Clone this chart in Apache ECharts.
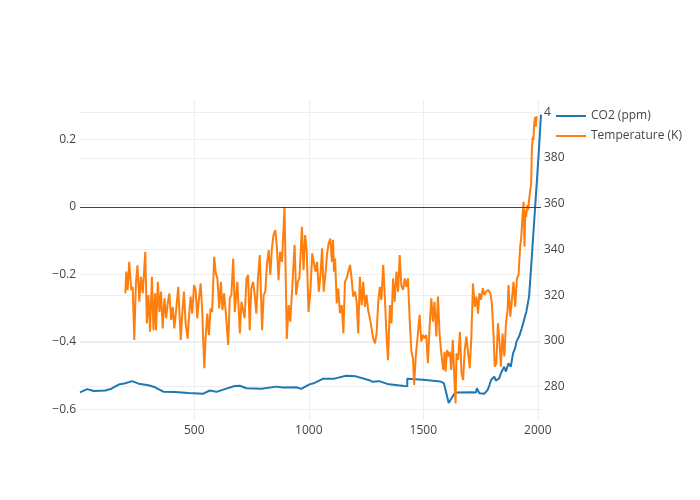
<!DOCTYPE html>
<html>
<head>
<meta charset="utf-8">
<script src="https://cdn.jsdelivr.net/npm/echarts@6/dist/echarts.min.js"></script>
<style>
html,body{margin:0;padding:0;background:#fff;}
#chart{width:700px;height:500px;}
</style>
</head>
<body>
<div id="chart"></div>
<script>
const seriesNames = ['CO2 (ppm)', 'Temperature (K)'];

const co2Years = [1,32,61,112,138,170,199,228,257,300,329,365,416,474,539,568,597,633,677,699,728,793,858,887,945,967,1003,1025,1061,1112,1163,1206,1264,1278,1307,1343,1416,1430,1430,1500,1575,1590,1611,1636,1645,1713,1730,1734,1745,1767,1781,1789,1796,1803,1810,1817,1832,1839,1846,1853,1861,1872,1882,1892,1901,1907,1918,1930,1940,1950,1962,1970,1977,1984,1990,1996,2002,2008,2014];
const co2Values = [277.5,278.9,278.1,278.3,279.1,280.9,281.5,282.4,281.3,280.6,279.7,277.8,277.7,277.2,276.9,278.3,277.7,278.9,280.3,280.4,279.3,279.1,280.0,279.6,279.7,279.0,281.0,281.6,283.4,283.5,284.8,284.5,282.8,282.1,282.4,281.2,280.3,280.2,283.4,283.0,282.2,281.5,272.8,277.0,277.4,277.5,277.4,279.3,277.1,276.9,278.6,280.7,282.9,282.2,284.4,282.6,283.7,285.9,287.3,288.7,286.6,290.2,288.7,294.6,296.8,299.7,301.9,305.5,309.2,312.8,319.5,331,341.5,352,361,370,379,389,399];

const tempYears = [199,203,209,216,225,231,238,245,252,260,267,275,286,293,300,307,315,322,329,333,341,348,355,362,370,377,384,391,399,406,413,420,430,441,448,455,462,471,478,484,491,499,506,513,520,528,535,540,544,549,557,564,571,578,587,594,601,609,616,623,630,638,648,655,662,670,677,688,699,706,713,720,728,735,742,749,757,764,771,778,786,796,803,810,817,825,832,839,846,854,861,868,875,883,894,904,912,919,926,938,945,952,959,970,977,984,991,999,1007,1015,1022,1029,1036,1044,1051,1058,1065,1073,1080,1087,1094,1101,1106,1110,1115,1122,1129,1136,1144,1151,1158,1165,1173,1180,1187,1194,1202,1209,1216,1223,1231,1238,1245,1252,1260,1267,1274,1281,1289,1296,1303,1310,1317,1325,1332,1339,1346,1354,1361,1368,1375,1383,1390,1397,1404,1412,1419,1426,1433,1441,1448,1455,1460,1467,1474,1484,1491,1499,1506,1513,1520,1528,1535,1542,1549,1557,1564,1571,1578,1583,1587,1593,1597,1604,1612,1616,1622,1629,1636,1641,1645,1652,1660,1667,1674,1681,1688,1696,1703,1710,1717,1725,1732,1739,1745,1752,1760,1767,1774,1783,1793,1800,1807,1812,1819,1826,1832,1839,1846,1854,1861,1868,1872,1880,1887,1894,1901,1909,1916,1923,1928,1933,1938,1942,1945,1949,1954,1958,1962,1967,1971,1974,1978,1981,1984,1988,1991,1995];
const tempValues = [-0.256,-0.192,-0.247,-0.163,-0.247,-0.237,-0.394,-0.227,-0.173,-0.281,-0.207,-0.256,-0.133,-0.345,-0.261,-0.370,-0.207,-0.365,-0.256,-0.365,-0.222,-0.311,-0.251,-0.360,-0.271,-0.330,-0.286,-0.256,-0.335,-0.296,-0.360,-0.311,-0.237,-0.394,-0.311,-0.251,-0.345,-0.390,-0.316,-0.266,-0.316,-0.232,-0.246,-0.330,-0.276,-0.227,-0.311,-0.414,-0.478,-0.394,-0.316,-0.380,-0.301,-0.311,-0.148,-0.197,-0.212,-0.301,-0.222,-0.306,-0.256,-0.316,-0.409,-0.271,-0.261,-0.153,-0.311,-0.222,-0.375,-0.281,-0.276,-0.330,-0.212,-0.202,-0.365,-0.242,-0.222,-0.261,-0.316,-0.212,-0.143,-0.365,-0.261,-0.251,-0.173,-0.128,-0.202,-0.123,-0.084,-0.069,-0.123,-0.217,-0.133,-0.163,0.000,-0.391,-0.291,-0.340,-0.261,-0.113,-0.261,-0.222,-0.212,-0.059,-0.187,-0.084,-0.133,-0.311,-0.251,-0.138,-0.133,-0.192,-0.163,-0.251,-0.202,-0.123,-0.251,-0.197,-0.138,-0.108,-0.094,-0.163,-0.098,-0.192,-0.153,-0.286,-0.242,-0.315,-0.291,-0.375,-0.222,-0.212,-0.207,-0.172,-0.212,-0.266,-0.251,-0.281,-0.375,-0.207,-0.291,-0.222,-0.296,-0.261,-0.310,-0.330,-0.330,-0.389,-0.404,-0.375,-0.286,-0.237,-0.276,-0.172,-0.266,-0.375,-0.454,-0.291,-0.345,-0.212,-0.281,-0.192,-0.251,-0.143,-0.232,-0.246,-0.212,-0.237,-0.212,-0.340,-0.429,-0.448,-0.527,-0.444,-0.444,-0.320,-0.399,-0.379,-0.389,-0.379,-0.463,-0.350,-0.271,-0.340,-0.281,-0.384,-0.266,-0.375,-0.429,-0.424,-0.483,-0.429,-0.488,-0.424,-0.443,-0.429,-0.483,-0.394,-0.513,-0.582,-0.434,-0.453,-0.370,-0.493,-0.513,-0.424,-0.384,-0.434,-0.478,-0.384,-0.227,-0.296,-0.266,-0.316,-0.256,-0.275,-0.241,-0.261,-0.251,-0.246,-0.256,-0.291,-0.384,-0.473,-0.463,-0.345,-0.394,-0.473,-0.375,-0.443,-0.345,-0.306,-0.232,-0.325,-0.275,-0.222,-0.296,-0.212,-0.202,-0.118,-0.089,-0.030,0.015,-0.118,-0.010,-0.030,0.005,-0.010,0.020,0.049,0.069,0.168,0.207,0.197,0.242,0.266,0.237,0.268];

const FONT = '"Open Sans", sans-serif';
const TXT = '#444';

function fmtSigned(v, step) {
  const r = Math.round(v / step);
  if (Math.abs(v - r * step) > step * 1e-3) return '';
  const n = Math.round(r * step * 10) / 10;
  if (n < 0) return '\u2212' + Math.abs(n);
  return String(n);
}

const chart = echarts.init(document.getElementById('chart'), null, {renderer: 'canvas'});
chart.setOption({
  animation: false,
  backgroundColor: '#fff',
  grid: {left: 80, right: 159, top: 100, bottom: 80, containLabel: false},
  legend: {
    data: seriesNames,
    orient: 'vertical',
    left: 551,
    top: 105,
    padding: [5, 5, 5, 5],
    backgroundColor: '#fff',
    itemWidth: 30,
    itemHeight: 2,
    itemGap: 8,
    icon: 'rect',
    textStyle: {color: TXT, fontSize: 12, fontFamily: FONT},
    selectedMode: false
  },
  xAxis: {
    type: 'value',
    min: 1,
    max: 2014,
    splitNumber: 5,
    axisLine: {show: false},
    axisTick: {show: false},
    axisLabel: {
      color: TXT, fontSize: 12, fontFamily: FONT, margin: 5,
      showMinLabel: false, showMaxLabel: false,
      formatter: v => (v % 500 === 0 ? String(v) : '')
    },
    splitLine: {show: true, showMinLine: false, showMaxLine: false, lineStyle: {color: '#eee', width: 1}}
  },
  yAxis: [
    {
      type: 'value',
      position: 'left',
      min: -0.631,
      max: 0.316,
      splitNumber: 5,
      axisLine: {show: false},
      axisTick: {show: false},
      axisLabel: {
        color: TXT, fontSize: 12, fontFamily: FONT, margin: 4,
        showMinLabel: false, showMaxLabel: false,
        formatter: v => fmtSigned(v, 0.2)
      },
      splitLine: {show: true, showMinLine: false, showMaxLine: false, lineStyle: {color: '#eee', width: 1}}
    },
    {
      type: 'value',
      position: 'right',
      min: 265.4,
      max: 405.4,
      splitNumber: 7,
      axisLine: {show: false},
      axisTick: {show: false},
      axisLabel: {
        color: TXT, fontSize: 12, fontFamily: FONT, margin: 3,
        showMinLabel: false, showMaxLabel: false,
        formatter: v => (Math.abs(v % 20) < 1e-6 ? String(v) : '')
      },
      splitLine: {show: true, showMinLine: false, showMaxLine: false, lineStyle: {color: '#eee', width: 1}}
    }
  ],
  series: [
    {
      name: seriesNames[0],
      type: 'line',
      yAxisIndex: 1,
      data: co2Years.map((x, i) => [x, co2Values[i]]),
      showSymbol: false,
      symbol: 'none',
      color: '#1f77b4',
      lineStyle: {color: '#1f77b4', width: 2},
      z: 2
    },
    {
      name: seriesNames[1],
      type: 'line',
      yAxisIndex: 0,
      data: tempYears.map((x, i) => [x, tempValues[i]]),
      showSymbol: false,
      symbol: 'none',
      color: '#ff7f0e',
      lineStyle: {color: '#ff7f0e', width: 2},
      z: 3,
      markLine: {
        silent: true,
        symbol: ['none', 'none'],
        label: {show: false},
        lineStyle: {color: '#444', width: 1, type: 'solid'},
        emphasis: {disabled: true},
        data: [{yAxis: 0}]
      }
    }
  ]
});
</script>
</body>
</html>
